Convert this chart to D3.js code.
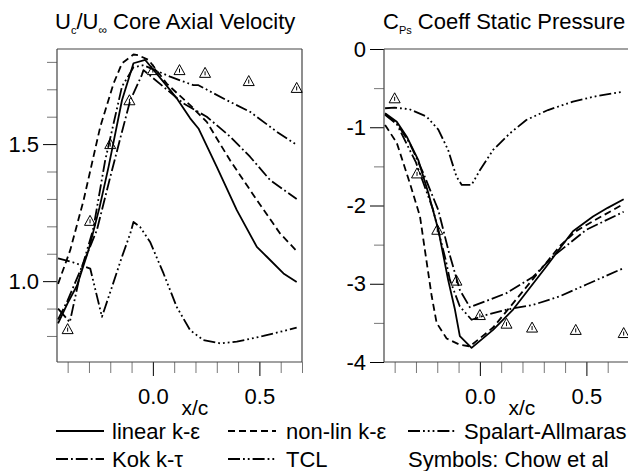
<!DOCTYPE html>
<html><head><meta charset="utf-8">
<script src="https://cdn.jsdelivr.net/npm/d3@7"></script>
<style>
html,body{margin:0;padding:0;background:#fff;}
svg{display:block;font-family:"Liberation Sans",Arial,Helvetica,sans-serif;}
</style></head>
<body><svg id="c" width="628" height="471"></svg>
<script>
// ---- data ----
const xTicksMajor = [0.0, 0.5];
const xTicksMinor = [-0.4,-0.3,-0.2,-0.1,0.1,0.2,0.3,0.4,0.6,0.7];
const velTicksMajor = [1.0, 1.5];
const velTicksMinor = [0.8,0.9,1.1,1.2,1.3,1.4,1.6,1.7,1.8];
const cpTicksMajor = [0,-1,-2,-3,-4];
const cpTicksMinor = [-0.5,-1.5,-2.5,-3.5];

const velLinear = [[-0.445,0.846],[-0.40,0.92],[-0.356,0.984],[-0.302,1.113],[-0.25,1.27],[-0.208,1.417],[-0.145,1.66],[-0.091,1.795],[-0.036,1.807],[0.05,1.727],[0.112,1.667],[0.175,1.594],[0.214,1.557],[0.30,1.417],[0.394,1.259],[0.488,1.125],[0.535,1.089],[0.613,1.028],[0.675,0.997]];
const velNonlin = [[-0.445,0.99],[-0.388,1.113],[-0.325,1.296],[-0.247,1.563],[-0.185,1.72],[-0.145,1.795],[-0.091,1.827],[-0.07,1.825],[-0.02,1.807],[0.066,1.72],[0.175,1.642],[0.253,1.581],[0.363,1.44],[0.488,1.296],[0.597,1.174],[0.675,1.11]];
const velSA = [[-0.445,1.083],[-0.372,1.068],[-0.294,1.046],[-0.239,0.87],[-0.192,0.979],[-0.145,1.089],[-0.106,1.174],[-0.091,1.216],[-0.06,1.198],[-0.013,1.143],[0.05,1.028],[0.112,0.906],[0.175,0.821],[0.237,0.785],[0.316,0.773],[0.394,0.779],[0.519,0.80],[0.675,0.83]];
const velKok = [[-0.445,0.86],[-0.40,0.93],[-0.34,1.04],[-0.263,1.186],[-0.2,1.38],[-0.15,1.53],[-0.106,1.66],[-0.052,1.752],[-0.044,1.77],[0.05,1.709],[0.144,1.648],[0.253,1.60],[0.363,1.527],[0.456,1.454],[0.55,1.369],[0.675,1.30]];
const velTCL = [[-0.445,0.90],[-0.39,0.85],[-0.34,1.03],[-0.28,1.19],[-0.224,1.44],[-0.145,1.71],[-0.091,1.78],[-0.044,1.788],[0.081,1.746],[0.19,1.715],[0.214,1.715],[0.347,1.66],[0.456,1.618],[0.582,1.545],[0.675,1.497]];

const cpLinear = [[-0.445,-0.82],[-0.39,-0.93],[-0.343,-1.12],[-0.289,-1.42],[-0.242,-1.84],[-0.195,-2.31],[-0.149,-2.95],[-0.117,-3.33],[-0.094,-3.67],[-0.039,-3.82],[0.062,-3.59],[0.156,-3.33],[0.312,-2.78],[0.375,-2.55],[0.437,-2.33],[0.531,-2.14],[0.60,-2.03],[0.675,-1.92]];
const cpNonlin = [[-0.445,-0.97],[-0.39,-1.20],[-0.328,-1.72],[-0.281,-2.14],[-0.258,-2.57],[-0.226,-3.16],[-0.203,-3.50],[-0.156,-3.70],[-0.094,-3.78],[-0.047,-3.80],[0.062,-3.56],[0.219,-3.04],[0.375,-2.52],[0.45,-2.33],[0.531,-2.20],[0.675,-1.98]];
const cpSA = [[-0.445,-0.757],[-0.40,-0.75],[-0.33,-0.77],[-0.25,-0.864],[-0.195,-1.03],[-0.149,-1.29],[-0.11,-1.63],[-0.085,-1.737],[-0.039,-1.737],[0.0,-1.55],[0.062,-1.29],[0.14,-1.08],[0.218,-0.907],[0.32,-0.78],[0.437,-0.673],[0.55,-0.60],[0.675,-0.545]];
const cpKok = [[-0.445,-0.83],[-0.39,-0.95],[-0.33,-1.20],[-0.265,-1.59],[-0.195,-2.06],[-0.148,-2.57],[-0.094,-3.08],[-0.047,-3.30],[0.125,-3.12],[0.25,-2.91],[0.344,-2.65],[0.5,-2.31],[0.675,-2.08]];
const cpTCL = [[-0.445,-0.84],[-0.39,-0.96],[-0.30,-1.45],[-0.22,-2.05],[-0.16,-2.70],[-0.141,-2.95],[-0.094,-3.29],[-0.039,-3.46],[0.016,-3.41],[0.125,-3.33],[0.25,-3.27],[0.375,-3.16],[0.5,-3.01],[0.675,-2.80]];

const chowX = [-0.40,-0.295,-0.20,-0.11,0.0,0.125,0.245,0.45,0.675];
const chowVel = [0.825,1.22,1.50,1.66,1.77,1.77,1.76,1.73,1.705];
const chowCp = [-0.63,-1.59,-2.31,-2.96,-3.40,-3.51,-3.56,-3.59,-3.63];

const seriesNames = ["linear k-ε","non-lin k-ε","Spalart-Allmaras","Kok k-τ","TCL"];
const seriesDash = ["", "7,4", "12,3,1.8,3,1.8,3,1.8,3", "12,3,1.8,3", "12,3,1.8,3,1.8,3"];

// ---- drawing ----
const svg = d3.select("#c");
const FS = 22;
const line = d3.line().x(d=>d.x).y(d=>d.y);

function panel(opts){
  const {x0,x1,yDom,yTop,yBot,major,minor,fmt,series,chowY,clipId,frameRight} = opts;
  const x = d3.scaleLinear().domain([-0.45,0.7]).range([x0,x1]);
  const y = d3.scaleLinear().domain(yDom).range([yBot,yTop]);
  svg.append("clipPath").attr("id",clipId).append("rect")
    .attr("x",x0).attr("y",yTop).attr("width",x1-x0).attr("height",yBot-yTop);
  const gyMin = svg.append("g").attr("transform",`translate(${x0},0)`)
    .call(d3.axisLeft(y).tickValues(minor).tickSize(10).tickFormat(""));
  gyMin.selectAll("line").attr("stroke","#777");
  gyMin.select(".domain").remove();
  const gyMaj = svg.append("g").attr("transform",`translate(${x0},0)`)
    .call(d3.axisLeft(y).tickValues(major).tickSize(14).tickPadding(4).tickFormat(fmt));
  gyMaj.select(".domain").remove();
  gyMaj.selectAll("line").attr("stroke","#000");
  gyMaj.selectAll("text").attr("font-size",FS).attr("font-family","Liberation Sans, Arial, sans-serif").attr("fill","#000");
  const gxMin = svg.append("g").attr("transform",`translate(0,${yBot})`)
    .call(d3.axisBottom(x).tickValues(xTicksMinor).tickSize(11).tickFormat(""));
  gxMin.selectAll("line").attr("stroke","#777");
  gxMin.select(".domain").remove();
  const gxMaj = svg.append("g").attr("transform",`translate(0,${yBot})`)
    .call(d3.axisBottom(x).tickValues(xTicksMajor).tickSize(14).tickPadding(12).tickFormat(d3.format(".1f")));
  gxMaj.select(".domain").remove();
  gxMaj.selectAll("line").attr("stroke","#000");
  gxMaj.selectAll("text").attr("font-size",FS).attr("font-family","Liberation Sans, Arial, sans-serif").attr("fill","#000");
  svg.append("text").attr("x",x(0)+42).attr("y",415).attr("text-anchor","middle")
    .attr("font-size",21).text("x/c");
  const fr = svg.append("g").attr("fill","none").attr("stroke","#444").attr("stroke-width",1.2);
  fr.append("line").attr("x1",x0).attr("x2",x0).attr("y1",yTop).attr("y2",yBot);
  fr.append("line").attr("x1",x0).attr("x2",x1).attr("y1",yTop).attr("y2",yTop);
  fr.append("line").attr("x1",x0).attr("x2",x1).attr("y1",yBot).attr("y2",yBot);
  if(frameRight) fr.append("line").attr("x1",x1).attr("x2",x1).attr("y1",yTop).attr("y2",yBot);
  const g = svg.append("g").attr("clip-path",`url(#${clipId})`);
  series.forEach((s,i)=>{
    g.append("path").attr("d",line(s.map(p=>({x:x(p[0]),y:y(p[1])}))))
      .attr("fill","none").attr("stroke","#000").attr("stroke-width",1.8)
      .attr("stroke-dasharray",seriesDash[i]||null).attr("stroke-linejoin","round");
  });
  const sym = svg.append("g").attr("fill","none").attr("stroke","#000").attr("stroke-width",1);
  chowX.forEach((cx,i)=>{
    const px = x(cx), py = y(chowY[i]);
    sym.append("path").attr("d",`M${px-5.5},${py+4.5}L${px},${py-5.5}L${px+5.5},${py+4.5}Z`);
    sym.append("line").attr("x1",px).attr("x2",px).attr("y1",py-1.5).attr("y2",py+2.5);
  });
}

panel({x0:57,x1:302,yDom:[0.705,1.847],yTop:49,yBot:362,major:velTicksMajor,minor:velTicksMinor,
  fmt:d3.format(".1f"),series:[velLinear,velNonlin,velSA,velKok,velTCL],chowY:chowVel,clipId:"c1",frameRight:true});
panel({x0:384,x1:629,yDom:[-4,0],yTop:49,yBot:362,major:cpTicksMajor,minor:cpTicksMinor,
  fmt:d=>String(d),series:[cpLinear,cpNonlin,cpSA,cpKok,cpTCL],chowY:chowCp,clipId:"c2",frameRight:true});

const t1 = svg.append("text").attr("x",55).attr("y",29).attr("font-size",FS);
t1.append("tspan").text("U");
t1.append("tspan").attr("font-size",11).attr("dy",5).text("c");
t1.append("tspan").attr("dy",-5).text("/U");
t1.append("tspan").attr("font-size",12).attr("dy",5).text("∞");
t1.append("tspan").attr("dy",-5).text(" Core Axial Velocity");
const t2 = svg.append("text").attr("x",383).attr("y",29).attr("font-size",FS);
t2.append("tspan").text("C");
t2.append("tspan").attr("font-size",11).attr("dy",5).text("Ps");
t2.append("tspan").attr("dy",-5).text(" Coeff Static Pressure");

const legX = [56,228,408], legTextX = [112,286,464], legY = [431,459];
const leg = svg.append("g");
seriesNames.forEach((n,i)=>{
  const col = i%3, row = Math.floor(i/3);
  leg.append("line").attr("x1",legX[col]).attr("x2",legX[col]+48)
    .attr("y1",legY[row]).attr("y2",legY[row]).attr("stroke","#000").attr("stroke-width",1.8)
    .attr("stroke-dasharray",seriesDash[i]||null);
  leg.append("text").attr("x",legTextX[col]).attr("y",legY[row]+8).attr("font-size",FS).text(n);
});
leg.append("text").attr("x",408).attr("y",legY[1]+8).attr("font-size",FS).text("Symbols: Chow et al");
</script></body></html>
